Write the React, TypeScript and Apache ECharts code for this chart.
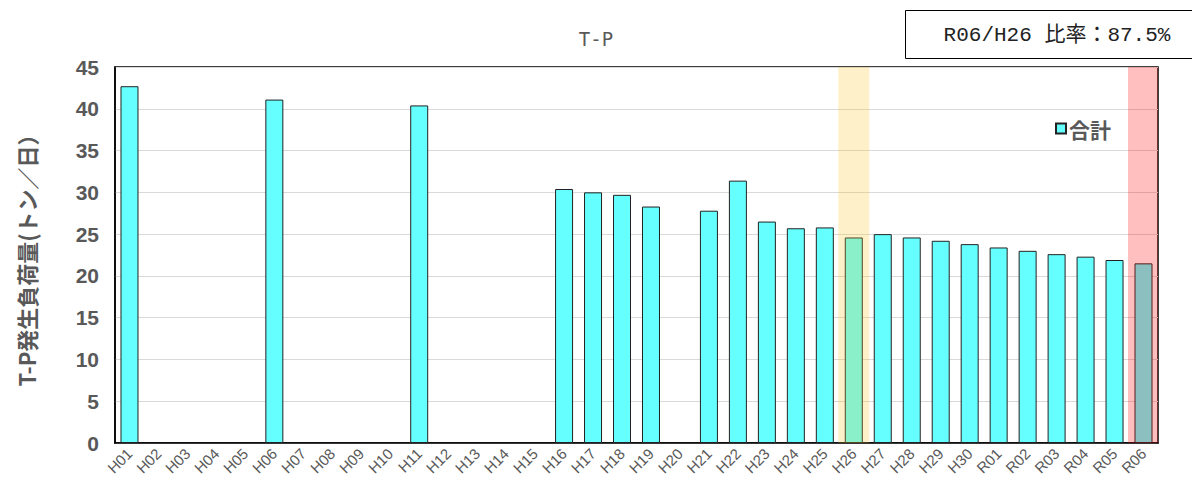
import React, { useEffect, useRef } from "react";
import * as echarts from "echarts";

const categories = [
  "H01", "H02", "H03", "H04", "H05", "H06", "H07", "H08", "H09", "H10",
  "H11", "H12", "H13", "H14", "H15", "H16", "H17", "H18", "H19", "H20",
  "H21", "H22", "H23", "H24", "H25", "H26", "H27", "H28", "H29", "H30",
  "R01", "R02", "R03", "R04", "R05", "R06",
];

// 合計 (トン/日); null = no survey that year
const totals: (number | null)[] = [
  42.7, null, null, null, null, 41.1, null, null, null, null,
  40.4, null, null, null, null, 30.4, 30.0, 29.7, 28.3, null,
  27.8, 31.4, 26.5, 25.7, 25.8, 24.6, 25.0, 24.6, 24.2, 23.8,
  23.4, 23.0, 22.6, 22.3, 21.9, 21.5,
];

const baseYear = "H26";
const latestYear = "R06";
const ratioText = "R06/H26 比率：87.5%";

const yMin = 0;
const yMax = 45;
const yStep = 5;

export default function App() {
  const ref = useRef<HTMLDivElement>(null);

  useEffect(() => {
    document.body.style.margin = "0";
    if (!ref.current) return;
    const chart = echarts.init(ref.current, undefined, { renderer: "svg" });

    // full-height translucent bands over the base year and the latest year
    const bandData = categories.map((c) => {
      if (c === baseYear) return { value: yMax, itemStyle: { color: "rgba(251,193,28,0.24)" } };
      if (c === latestYear) return { value: yMax, itemStyle: { color: "rgba(255,0,0,0.25)" } };
      return null;
    });

    chart.setOption({
      animation: false,
      backgroundColor: "#fff",
      title: {
        text: "T-P",
        left: "center",
        top: 24,
        textStyle: {
          fontFamily: "DejaVu Sans Mono",
          fontSize: 19,
          fontWeight: "normal",
          color: "#595959",
        },
      },
      legend: {
        data: ["合計"],
        left: 1050,
        top: 113,
        icon: "rect",
        itemWidth: 10,
        itemHeight: 10,
        itemGap: 4,
        textStyle: {
          fontFamily: "Noto Sans CJK JP",
          fontSize: 21,
          fontWeight: "bold",
          color: "#595959",
          padding: [0, 0, 0, -2],
        },
      },
      grid: {
        left: 115,
        right: 34,
        top: 67,
        bottom: 51,
        show: true,
        borderColor: "#000",
        borderWidth: 1.5,
      },
      xAxis: [
        {
          type: "category",
          data: categories,
          axisLine: { lineStyle: { color: "#000", width: 1.5 } },
          axisTick: { show: false },
          axisLabel: {
            interval: 0,
            rotate: 45,
            margin: 8,
            fontFamily: "Liberation Sans",
            fontSize: 15,
            color: "#595959",
          },
        },
        {
          type: "category",
          data: categories,
          show: false,
        },
      ],
      yAxis: {
        type: "value",
        min: yMin,
        max: yMax,
        interval: yStep,
        name: "T-P発生負荷量(トン／日）",
        nameLocation: "middle",
        nameGap: 78,
        nameTextStyle: {
          fontFamily: "Noto Sans CJK JP",
          fontSize: 22,
          fontWeight: "bold",
          color: "#595959",
        },
        axisLine: { show: true, lineStyle: { color: "#000", width: 1.5 } },
        axisTick: { show: false },
        splitLine: { lineStyle: { color: "#d9d9d9", width: 1 } },
        axisLabel: {
          margin: 16,
          fontFamily: "Liberation Sans",
          fontSize: 21,
          fontWeight: "bold",
          color: "#595959",
        },
      },
      graphic: [
        {
          type: "rect",
          shape: { x: 905.5, y: 10.5, width: 290, height: 48 },
          style: { fill: "#fff", stroke: "#000", lineWidth: 1 },
          z: 10,
        },
        {
          type: "text",
          x: 1057,
          y: 35,
          style: {
            text: ratioText,
            align: "center",
            verticalAlign: "middle",
            fontFamily: "Liberation Mono, Noto Sans CJK JP",
            fontSize: 21,
            fill: "#222",
          },
          z: 11,
        },
      ],
      series: [
        {
          name: "合計",
          type: "bar",
          data: totals,
          barWidth: 18,
          itemStyle: { color: "#66ffff", borderColor: "#222", borderWidth: 1 },
          z: 2,
        },
        {
          name: "band",
          type: "bar",
          xAxisIndex: 1,
          data: bandData,
          barWidth: 31,
          silent: true,
          z: 3,
        },
      ],
    });

    return () => chart.dispose();
  }, []);

  return <div ref={ref} style={{ width: 1192, height: 494 }} />;
}
